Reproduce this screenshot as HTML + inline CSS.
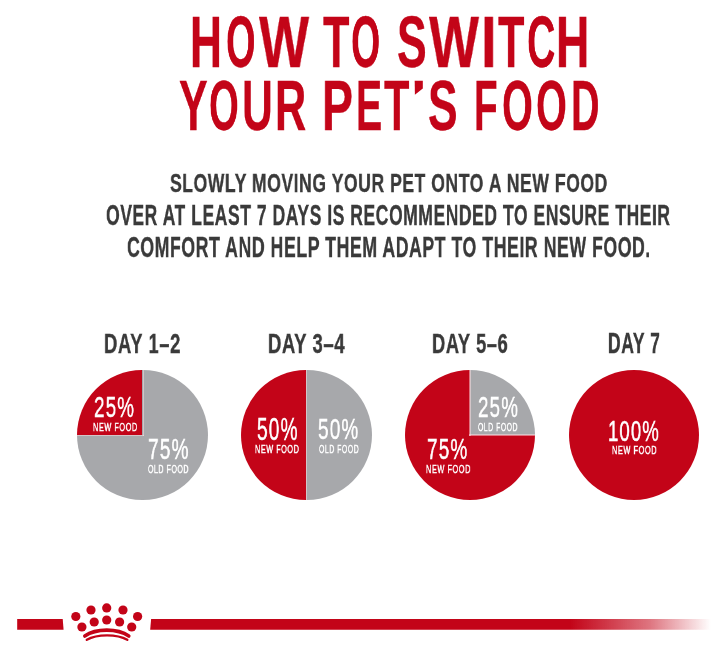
<!DOCTYPE html>
<html><head><meta charset="utf-8"><style>
html,body{margin:0;padding:0;background:#fff;width:720px;height:660px;overflow:hidden;position:relative}
.t{position:absolute;will-change:transform;font-family:"Liberation Sans",sans-serif;line-height:1;white-space:nowrap;transform-origin:0 0}
.c{position:absolute;width:130.5px;height:130.5px;border-radius:50%;top:369.95px;overflow:hidden}
.c i{position:absolute;display:block;background:rgba(255,225,230,.5)}
</style></head><body>
<div class="c" style="left:77.15px;background:conic-gradient(#a7a8ab 0 75%,#c30418 75% 100%)"><i style="left:65.45px;top:0;width:1.1px;height:66.45px"></i><i style="left:0;top:65.35px;width:66.55px;height:1.2px"></i></div>
<div class="c" style="left:241.0px;background:linear-gradient(90deg,#c30418 64.75px,#a7a8ab 64.75px)"><i style="left:64.75px;top:0;width:1.1px;height:130.5px"></i></div>
<div class="c" style="left:404.85px;background:conic-gradient(#a7a8ab 0 25%,#c30418 25% 100%)"><i style="left:64.65px;top:0;width:1.1px;height:65.85px"></i><i style="left:64.65px;top:64.45px;width:66.25px;height:1.2px"></i></div>
<div class="c" style="left:568.5px;background:#c30418"></div>
<div class="t" style="left:190.40px;top:6.94px;font-size:71.64px;font-weight:700;color:#c30418;-webkit-text-stroke:0.3px #c30418;transform:scaleX(0.6212)">H</div>
<div class="t" style="left:225.95px;top:6.94px;font-size:71.64px;font-weight:700;color:#c30418;-webkit-text-stroke:0.3px #c30418;transform:scaleX(0.5308)">O</div>
<div class="t" style="left:259.29px;top:6.94px;font-size:71.64px;font-weight:700;color:#c30418;-webkit-text-stroke:0.3px #c30418;transform:scaleX(0.7404)">W</div>
<div class="t" style="left:323.39px;top:6.94px;font-size:71.64px;font-weight:700;color:#c30418;-webkit-text-stroke:0.3px #c30418;transform:scaleX(0.6073)">T</div>
<div class="t" style="left:351.46px;top:6.94px;font-size:71.64px;font-weight:700;color:#c30418;-webkit-text-stroke:0.3px #c30418;transform:scaleX(0.5248)">O</div>
<div class="t" style="left:396.87px;top:6.94px;font-size:71.64px;font-weight:700;color:#c30418;-webkit-text-stroke:0.3px #c30418;transform:scaleX(0.6215)">S</div>
<div class="t" style="left:428.74px;top:6.94px;font-size:71.64px;font-weight:700;color:#c30418;-webkit-text-stroke:0.3px #c30418;transform:scaleX(0.7389)">W</div>
<div class="t" style="left:480.97px;top:6.94px;font-size:71.64px;font-weight:700;color:#c30418;-webkit-text-stroke:0.3px #c30418;transform:scaleX(0.7822)">I</div>
<div class="t" style="left:497.70px;top:6.94px;font-size:71.64px;font-weight:700;color:#c30418;-webkit-text-stroke:0.3px #c30418;transform:scaleX(0.6038)">T</div>
<div class="t" style="left:526.50px;top:6.94px;font-size:71.64px;font-weight:700;color:#c30418;-webkit-text-stroke:0.3px #c30418;transform:scaleX(0.5475)">C</div>
<div class="t" style="left:555.84px;top:6.94px;font-size:71.64px;font-weight:700;color:#c30418;-webkit-text-stroke:0.3px #c30418;transform:scaleX(0.6471)">H</div>
<div class="t" style="left:179.15px;top:72.02px;font-size:69.90px;font-weight:700;color:#c30418;-webkit-text-stroke:0.3px #c30418;transform:scaleX(0.6152)">Y</div>
<div class="t" style="left:208.57px;top:72.02px;font-size:69.90px;font-weight:700;color:#c30418;-webkit-text-stroke:0.3px #c30418;transform:scaleX(0.5467)">O</div>
<div class="t" style="left:241.55px;top:72.02px;font-size:69.90px;font-weight:700;color:#c30418;-webkit-text-stroke:0.3px #c30418;transform:scaleX(0.6098)">U</div>
<div class="t" style="left:274.98px;top:72.02px;font-size:69.90px;font-weight:700;color:#c30418;-webkit-text-stroke:0.3px #c30418;transform:scaleX(0.6197)">R</div>
<div class="t" style="left:321.98px;top:72.02px;font-size:69.90px;font-weight:700;color:#c30418;-webkit-text-stroke:0.3px #c30418;transform:scaleX(0.6658)">P</div>
<div class="t" style="left:355.74px;top:72.02px;font-size:69.90px;font-weight:700;color:#c30418;-webkit-text-stroke:0.3px #c30418;transform:scaleX(0.5604)">E</div>
<div class="t" style="left:383.71px;top:72.02px;font-size:69.90px;font-weight:700;color:#c30418;-webkit-text-stroke:0.3px #c30418;transform:scaleX(0.5985)">T</div>
<div class="t" style="left:428.28px;top:72.02px;font-size:69.90px;font-weight:700;color:#c30418;-webkit-text-stroke:0.3px #c30418;transform:scaleX(0.6348)">S</div>
<div class="t" style="left:474.26px;top:72.02px;font-size:69.90px;font-weight:700;color:#c30418;-webkit-text-stroke:0.3px #c30418;transform:scaleX(0.5553)">F</div>
<div class="t" style="left:501.82px;top:72.02px;font-size:69.90px;font-weight:700;color:#c30418;-webkit-text-stroke:0.3px #c30418;transform:scaleX(0.5671)">O</div>
<div class="t" style="left:536.32px;top:72.02px;font-size:69.90px;font-weight:700;color:#c30418;-webkit-text-stroke:0.3px #c30418;transform:scaleX(0.5671)">O</div>
<div class="t" style="left:570.82px;top:72.02px;font-size:69.90px;font-weight:700;color:#c30418;-webkit-text-stroke:0.3px #c30418;transform:scaleX(0.5654)">D</div>
<div class="t" style="left:169.83px;top:170.34px;font-size:26.00px;font-weight:700;color:#3a3a3a;letter-spacing:0.03em;-webkit-text-stroke:0.35px #3a3a3a;transform:scaleX(0.6772)">SLOWLY MOVING YOUR PET ONTO A NEW FOOD</div>
<div class="t" style="left:106.28px;top:201.08px;font-size:28.66px;font-weight:700;color:#3a3a3a;letter-spacing:0.03em;-webkit-text-stroke:0.35px #3a3a3a;transform:scaleX(0.6129)">OVER AT LEAST 7 DAYS IS RECOMMENDED TO ENSURE THEIR</div>
<div class="t" style="left:126.74px;top:233.08px;font-size:28.66px;font-weight:700;color:#3a3a3a;letter-spacing:0.03em;-webkit-text-stroke:0.35px #3a3a3a;transform:scaleX(0.6187)">COMFORT AND HELP THEM ADAPT TO THEIR NEW FOOD.</div>
<div class="t" style="left:104.00px;top:330.19px;font-size:27.58px;font-weight:700;color:#3a3a3a;letter-spacing:0.03em;-webkit-text-stroke:0.35px #3a3a3a;transform:scaleX(0.6710)">DAY 1–2</div>
<div class="t" style="left:267.76px;top:329.55px;font-size:28.06px;font-weight:700;color:#3a3a3a;letter-spacing:0.03em;-webkit-text-stroke:0.35px #3a3a3a;transform:scaleX(0.6612)">DAY 3–4</div>
<div class="t" style="left:432.38px;top:329.48px;font-size:28.23px;font-weight:700;color:#3a3a3a;letter-spacing:0.03em;-webkit-text-stroke:0.35px #3a3a3a;transform:scaleX(0.6501)">DAY 5–6</div>
<div class="t" style="left:607.89px;top:328.83px;font-size:28.84px;font-weight:700;color:#3a3a3a;letter-spacing:0.03em;-webkit-text-stroke:0.35px #3a3a3a;transform:scaleX(0.6088)">DAY 7</div>
<div class="t" style="left:94.01px;top:392.39px;font-size:29.93px;font-weight:400;color:#fff;letter-spacing:0.06em;-webkit-text-stroke:0.5px #fff;transform:scaleX(0.6309)">25%</div>
<div class="t" style="left:93.05px;top:421.52px;font-size:11.43px;font-weight:400;color:#fff;letter-spacing:0.08em;-webkit-text-stroke:0.5px #fff;transform:scaleX(0.6383)">NEW FOOD</div>
<div class="t" style="left:147.78px;top:434.36px;font-size:29.73px;font-weight:400;color:#fff;letter-spacing:0.06em;-webkit-text-stroke:0.5px #fff;transform:scaleX(0.6437)">75%</div>
<div class="t" style="left:147.83px;top:463.50px;font-size:11.43px;font-weight:400;color:#fff;letter-spacing:0.08em;-webkit-text-stroke:0.5px #fff;transform:scaleX(0.6129)">OLD FOOD</div>
<div class="t" style="left:257.00px;top:414.38px;font-size:31.38px;font-weight:400;color:#fff;letter-spacing:0.06em;-webkit-text-stroke:0.5px #fff;transform:scaleX(0.6083)">50%</div>
<div class="t" style="left:255.27px;top:444.08px;font-size:11.41px;font-weight:400;color:#fff;letter-spacing:0.08em;-webkit-text-stroke:0.5px #fff;transform:scaleX(0.6338)">NEW FOOD</div>
<div class="t" style="left:317.62px;top:414.06px;font-size:30.32px;font-weight:400;color:#fff;letter-spacing:0.06em;-webkit-text-stroke:0.5px #fff;transform:scaleX(0.6266)">50%</div>
<div class="t" style="left:319.43px;top:443.47px;font-size:11.70px;font-weight:400;color:#fff;letter-spacing:0.08em;-webkit-text-stroke:0.5px #fff;transform:scaleX(0.5873)">OLD FOOD</div>
<div class="t" style="left:478.18px;top:392.35px;font-size:30.21px;font-weight:400;color:#fff;letter-spacing:0.06em;-webkit-text-stroke:0.5px #fff;transform:scaleX(0.6240)">25%</div>
<div class="t" style="left:478.38px;top:422.14px;font-size:11.43px;font-weight:400;color:#fff;letter-spacing:0.08em;-webkit-text-stroke:0.5px #fff;transform:scaleX(0.5975)">OLD FOOD</div>
<div class="t" style="left:427.23px;top:433.86px;font-size:29.58px;font-weight:400;color:#fff;letter-spacing:0.06em;-webkit-text-stroke:0.5px #fff;transform:scaleX(0.6407)">75%</div>
<div class="t" style="left:425.84px;top:463.66px;font-size:11.41px;font-weight:400;color:#fff;letter-spacing:0.08em;-webkit-text-stroke:0.5px #fff;transform:scaleX(0.6420)">NEW FOOD</div>
<div class="t" style="left:608.01px;top:415.56px;font-size:30.20px;font-weight:400;color:#fff;letter-spacing:0.06em;-webkit-text-stroke:0.5px #fff;transform:scaleX(0.6143)">100%</div>
<div class="t" style="left:611.73px;top:444.45px;font-size:11.62px;font-weight:400;color:#fff;letter-spacing:0.08em;-webkit-text-stroke:0.5px #fff;transform:scaleX(0.6335)">NEW FOOD</div>
<svg style="position:absolute;left:0;top:0" width="720" height="660">
<defs><linearGradient id="g" gradientUnits="userSpaceOnUse" x1="150" y1="0" x2="711" y2="0"><stop offset="0.749" stop-color="#c30418"/><stop offset="0.891" stop-color="#c30418" stop-opacity="0.55"/><stop offset="1" stop-color="#c30418" stop-opacity="0"/></linearGradient></defs>
<path d="M17.2 619H62.7L63.6 629.8H17.2Z" fill="#c30418"/>
<path d="M151.1 618.9H711V629.8H150.2Z" fill="url(#g)"/>
<path d="M414.7 80.8H422.8V88.5L414.9 94.8Z" fill="#c30418"/>
<g fill="#c30418">
<circle cx="75.8" cy="616.5" r="4.6"/>
<circle cx="91" cy="610" r="4.6"/>
<circle cx="106.7" cy="607.9" r="4.6"/>
<circle cx="123" cy="610" r="4.6"/>
<circle cx="137.6" cy="616.5" r="4.6"/>
<circle cx="81.9" cy="627" r="4.6"/>
<circle cx="94.2" cy="622" r="4.6"/>
<circle cx="106.7" cy="620" r="4.6"/>
<circle cx="119.6" cy="622" r="4.6"/>
<circle cx="131.7" cy="627" r="4.6"/>
</g>
<path d="M84.8 636 C96 628.2 117.5 628.2 128.8 636" stroke="#c30418" stroke-width="3.6" fill="none" stroke-linecap="round"/>
<path d="M86.8 639.8 C97 633.9 117 633.9 127.3 639.8" stroke="#c30418" stroke-width="2.4" fill="none" stroke-linecap="round"/>
</svg>
</body></html>
